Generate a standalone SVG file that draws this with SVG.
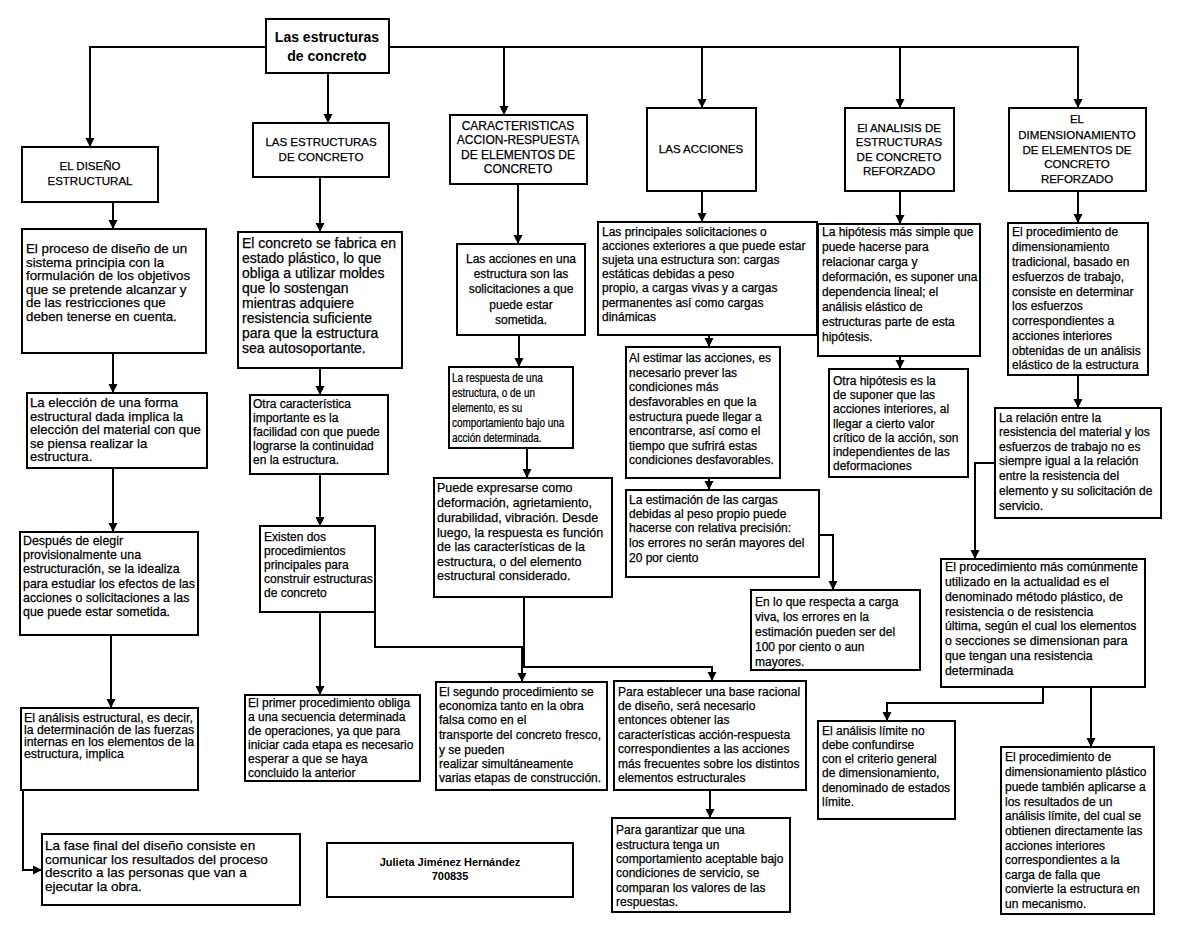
<svg xmlns="http://www.w3.org/2000/svg" width="1200" height="927" viewBox="0 0 1200 927">
<defs>
<marker id="arr" markerUnits="userSpaceOnUse" markerWidth="10" markerHeight="10" refX="9" refY="5" orient="auto">
<path d="M0,0.5 L9,5 L0,9.5 z" fill="#000"/>
</marker>
<style>
.box{fill:#fff;stroke:#000;stroke-width:2}
.t{font-family:"Liberation Sans",Arial,sans-serif;font-size:12px;fill:#000;stroke:#000;stroke-width:0.25px}
.h{font-family:"Liberation Sans",Arial,sans-serif;font-size:11.5px;fill:#000;stroke:#000;stroke-width:0.25px;text-anchor:middle}
.c{text-anchor:middle}
.b{font-weight:bold;stroke-width:0}
.conn path{fill:none;stroke:#000;stroke-width:2;marker-end:url(#arr)}
</style>
</defs>
<rect width="1200" height="927" fill="#fff"/>
<g class="conn">
<path d="M266,47 H90 V147"/>
<path d="M389,47 H1078 V108"/>
<path d="M504,47 V115"/>
<path d="M702,47 V108"/>
<path d="M900,47 V108"/>
<path d="M328,73 V123"/>
<path d="M113,202 V229"/>
<path d="M113,353 V393"/>
<path d="M113,468 V532"/>
<path d="M111,635 V708"/>
<path d="M23,790 V870 H42"/>
<path d="M320,177 V232"/>
<path d="M320,368 V395"/>
<path d="M320,474 V526"/>
<path d="M320,612 V695"/>
<path d="M375,612 V647 H522 V682"/>
<path d="M518,184 V244"/>
<path d="M519,335 V367"/>
<path d="M527,448 V478"/>
<path d="M524,597 V667 H712 V681"/>
<path d="M702,191 V222"/>
<path d="M709,335 V347"/>
<path d="M709,478 V490"/>
<path d="M819,535 H833 V590"/>
<path d="M710,790 V818"/>
<path d="M900,191 V224"/>
<path d="M900,356 V369"/>
<path d="M1078,191 V223"/>
<path d="M1078,375 V408"/>
<path d="M995,463 H975 V559"/>
<path d="M1043,687 V703 H887 V721"/>
<path d="M1091,687 V747"/>
</g>
<g id="title"><rect class="box" x="266" y="19" width="123" height="54"/><text class="t c b" style="font-size:14px"><tspan x="327" y="42">Las estructuras</tspan><tspan x="327" y="61">de concreto</tspan></text></g>
<g id="h1"><rect class="box" x="22" y="147" width="136" height="55"/><text class="h"><tspan x="90" y="170">EL DISEÑO</tspan><tspan x="90" y="185">ESTRUCTURAL</tspan></text></g>
<g id="h2"><rect class="box" x="253" y="123" width="136" height="54"/><text class="h"><tspan x="321" y="146">LAS ESTRUCTURAS</tspan><tspan x="321" y="161">DE CONCRETO</tspan></text></g>
<g id="h3"><rect class="box" x="450" y="115" width="137" height="69"/><text class="h" style="font-size:12px"><tspan x="518" y="130">CARACTERISTICAS</tspan><tspan x="518" y="144">ACCION-RESPUESTA</tspan><tspan x="518" y="159">DE ELEMENTOS DE</tspan><tspan x="518" y="173">CONCRETO</tspan></text></g>
<g id="h4"><rect class="box" x="647" y="108" width="109" height="83"/><text class="h"><tspan x="701" y="153">LAS ACCIONES</tspan></text></g>
<g id="h5"><rect class="box" x="845" y="108" width="109" height="83"/><text class="h"><tspan x="899" y="132">El ANALISIS DE</tspan><tspan x="899" y="146">ESTRUCTURAS</tspan><tspan x="899" y="161">DE CONCRETO</tspan><tspan x="899" y="175">REFORZADO</tspan></text></g>
<g id="h6"><rect class="box" x="1009" y="108" width="137" height="83"/><text class="h"><tspan x="1077" y="123">EL</tspan><tspan x="1077" y="139">DIMENSIONAMIENTO</tspan><tspan x="1077" y="154">DE ELEMENTOS DE</tspan><tspan x="1077" y="168">CONCRETO</tspan><tspan x="1077" y="183">REFORZADO</tspan></text></g>

<g id="a1"><rect class="box" x="22" y="229" width="184" height="124"/><text class="t" style="font-size:13.3px"><tspan x="26" y="253">El proceso de diseño de un</tspan><tspan x="26" y="267">sistema principia con la</tspan><tspan x="26" y="280">formulación de los objetivos</tspan><tspan x="26" y="294">que se pretende alcanzar y</tspan><tspan x="26" y="307">de las restricciones que</tspan><tspan x="26" y="321">deben tenerse en cuenta.</tspan></text></g>
<g id="a2"><rect class="box" x="27" y="393" width="180" height="75"/><text class="t" style="font-size:13.2px"><tspan x="30" y="407">La elección de una forma</tspan><tspan x="30" y="421">estructural dada implica la</tspan><tspan x="30" y="434">elección del material con que</tspan><tspan x="30" y="448">se piensa realizar la</tspan><tspan x="30" y="461">estructura.</tspan></text></g>
<g id="a3"><rect class="box" x="20" y="532" width="178" height="103"/><text class="t" style="font-size:13.5px" transform="translate(23,0) scale(0.92,1) translate(-23,0)"><tspan x="23" y="545">Después de elegir</tspan><tspan x="23" y="559">provisionalmente una</tspan><tspan x="23" y="573">estructuración, se la idealiza</tspan><tspan x="23" y="588">para estudiar los efectos de las</tspan><tspan x="23" y="602">acciones o solicitaciones a las</tspan><tspan x="23" y="616">que puede estar sometida.</tspan></text></g>
<g id="a4"><rect class="box" x="21" y="708" width="177" height="82"/><text class="t" style="font-size:12.3px"><tspan x="24" y="722">El análisis estructural, es decir,</tspan><tspan x="24" y="734">la determinación de las fuerzas</tspan><tspan x="24" y="746">internas en los elementos de la</tspan><tspan x="24" y="758">estructura, implica</tspan></text></g>
<g id="a5"><rect class="box" x="42" y="834" width="258" height="71"/><text class="t" style="font-size:13.5px"><tspan x="45" y="850">La fase final del diseño consiste en</tspan><tspan x="45" y="864">comunicar los resultados del proceso</tspan><tspan x="45" y="877">descrito a las personas que van a</tspan><tspan x="45" y="891">ejecutar la obra.</tspan></text></g>

<g id="b1"><rect class="box" x="238" y="232" width="164" height="136"/><text class="t" style="font-size:14px"><tspan x="242" y="248">El concreto se fabrica en</tspan><tspan x="242" y="263">estado plástico, lo que</tspan><tspan x="242" y="278">obliga a utilizar moldes</tspan><tspan x="242" y="293">que lo sostengan</tspan><tspan x="242" y="308">mientras adquiere</tspan><tspan x="242" y="323">resistencia suficiente</tspan><tspan x="242" y="338">para que la estructura</tspan><tspan x="242" y="353">sea autosoportante.</tspan></text></g>
<g id="b2"><rect class="box" x="250" y="395" width="138" height="79"/><text class="t"><tspan x="253" y="408">Otra característica</tspan><tspan x="253" y="422">importante es la</tspan><tspan x="253" y="436">facilidad con que puede</tspan><tspan x="253" y="450">lograrse la continuidad</tspan><tspan x="253" y="464">en la estructura.</tspan></text></g>
<g id="b3"><rect class="box" x="260" y="526" width="115" height="86"/><text class="t"><tspan x="264" y="541">Existen dos</tspan><tspan x="264" y="555">procedimientos</tspan><tspan x="264" y="569">principales para</tspan><tspan x="264" y="583">construir estructuras</tspan><tspan x="264" y="597">de concreto</tspan></text></g>
<g id="b4"><rect class="box" x="245" y="695" width="175" height="86"/><text class="t"><tspan x="248" y="707">El primer procedimiento obliga</tspan><tspan x="248" y="721">a una secuencia determinada</tspan><tspan x="248" y="735">de operaciones, ya que para</tspan><tspan x="248" y="749">iniciar cada etapa es necesario</tspan><tspan x="248" y="763">esperar a que se haya</tspan><tspan x="248" y="777">concluido la anterior</tspan></text></g>

<g id="c1"><rect class="box" x="457" y="244" width="128" height="91"/><text class="t c"><tspan x="521" y="263">Las acciones en una</tspan><tspan x="521" y="278">estructura son las</tspan><tspan x="521" y="293">solicitaciones a que</tspan><tspan x="521" y="309">puede estar</tspan><tspan x="521" y="324">sometida.</tspan></text></g>
<g id="c2"><rect class="box" x="449" y="367" width="124" height="81"/><text class="t" transform="translate(452,0) scale(0.83,1) translate(-452,0)"><tspan x="452" y="382">La respuesta de una</tspan><tspan x="452" y="397">estructura, o de un</tspan><tspan x="452" y="412">elemento, es su</tspan><tspan x="452" y="427">comportamiento bajo una</tspan><tspan x="452" y="442">acción determinada.</tspan></text></g>
<g id="c3"><rect class="box" x="434" y="478" width="178" height="119"/><text class="t" style="font-size:12.5px"><tspan x="437" y="492">Puede expresarse como</tspan><tspan x="437" y="507">deformación, agrietamiento,</tspan><tspan x="437" y="522">durabilidad, vibración. Desde</tspan><tspan x="437" y="537">luego, la respuesta es función</tspan><tspan x="437" y="551">de las características de la</tspan><tspan x="437" y="566">estructura, o del elemento</tspan><tspan x="437" y="580">estructural considerado.</tspan></text></g>
<g id="c5"><rect class="box" x="436" y="682" width="171" height="108"/><text class="t"><tspan x="439" y="696">El segundo procedimiento se</tspan><tspan x="439" y="710">economiza tanto en la obra</tspan><tspan x="439" y="724">falsa como en el</tspan><tspan x="439" y="739">transporte del concreto fresco,</tspan><tspan x="439" y="754">y se pueden</tspan><tspan x="439" y="768">realizar simultáneamente</tspan><tspan x="439" y="782">varias etapas de construcción.</tspan></text></g>

<g id="d1"><rect class="box" x="598" y="222" width="219" height="113"/><text class="t"><tspan x="602" y="236">Las principales solicitaciones o</tspan><tspan x="602" y="250">acciones exteriores a que puede estar</tspan><tspan x="602" y="264">sujeta una estructura son: cargas</tspan><tspan x="602" y="278">estáticas debidas a peso</tspan><tspan x="602" y="292">propio, a cargas vivas y a cargas</tspan><tspan x="602" y="307">permanentes así como cargas</tspan><tspan x="602" y="321">dinámicas</tspan></text></g>
<g id="d2"><rect class="box" x="626" y="347" width="154" height="131"/><text class="t"><tspan x="629" y="362">Al estimar las acciones, es</tspan><tspan x="629" y="377">necesario prever las</tspan><tspan x="629" y="391">condiciones más</tspan><tspan x="629" y="406">desfavorables en que la</tspan><tspan x="629" y="421">estructura puede llegar a</tspan><tspan x="629" y="435">encontrarse, así como el</tspan><tspan x="629" y="450">tiempo que sufrirá estas</tspan><tspan x="629" y="464">condiciones desfavorables.</tspan></text></g>
<g id="d3"><rect class="box" x="626" y="490" width="193" height="87"/><text class="t"><tspan x="629" y="504">La estimación de las cargas</tspan><tspan x="629" y="518">debidas al peso propio puede</tspan><tspan x="629" y="532">hacerse con relativa precisión:</tspan><tspan x="629" y="547">los errores no serán mayores del</tspan><tspan x="629" y="562">20 por ciento</tspan></text></g>
<g id="d4"><rect class="box" x="751" y="590" width="169" height="80"/><text class="t"><tspan x="755" y="606">En lo que respecta a carga</tspan><tspan x="755" y="621">viva, los errores en la</tspan><tspan x="755" y="636">estimación pueden ser del</tspan><tspan x="755" y="651">100 por ciento o aun</tspan><tspan x="755" y="666">mayores.</tspan></text></g>
<g id="d5"><rect class="box" x="614" y="681" width="192" height="109"/><text class="t"><tspan x="618" y="696">Para establecer una base racional</tspan><tspan x="618" y="710">de diseño, será necesario</tspan><tspan x="618" y="724">entonces obtener las</tspan><tspan x="618" y="739">características acción-respuesta</tspan><tspan x="618" y="753">correspondientes a las acciones</tspan><tspan x="618" y="768">más frecuentes sobre los distintos</tspan><tspan x="618" y="782">elementos estructurales</tspan></text></g>
<g id="d6"><rect class="box" x="612" y="818" width="178" height="94"/><text class="t"><tspan x="616" y="834">Para garantizar que una</tspan><tspan x="616" y="849">estructura tenga un</tspan><tspan x="616" y="863">comportamiento aceptable bajo</tspan><tspan x="616" y="877">condiciones de servicio, se</tspan><tspan x="616" y="892">comparan los valores de las</tspan><tspan x="616" y="906">respuestas.</tspan></text></g>

<g id="e1"><rect class="box" x="818" y="224" width="162" height="132"/><text class="t"><tspan x="822" y="236">La hipótesis más simple que</tspan><tspan x="822" y="251">puede hacerse para</tspan><tspan x="822" y="266">relacionar carga y</tspan><tspan x="822" y="281">deformación, es suponer una</tspan><tspan x="822" y="296">dependencia lineal; el</tspan><tspan x="822" y="311">análisis elástico de</tspan><tspan x="822" y="326">estructuras parte de esta</tspan><tspan x="822" y="341">hipótesis.</tspan></text></g>
<g id="e2"><rect class="box" x="829" y="369" width="139" height="108"/><text class="t"><tspan x="833" y="385">Otra hipótesis es la</tspan><tspan x="833" y="399">de suponer que las</tspan><tspan x="833" y="413">acciones interiores, al</tspan><tspan x="833" y="428">llegar a cierto valor</tspan><tspan x="833" y="442">crítico de la acción, son</tspan><tspan x="833" y="456">independientes de las</tspan><tspan x="833" y="470">deformaciones</tspan></text></g>

<g id="f1"><rect class="box" x="1008" y="223" width="140" height="152"/><text class="t"><tspan x="1012" y="236">El procedimiento de</tspan><tspan x="1012" y="251">dimensionamiento</tspan><tspan x="1012" y="266">tradicional, basado en</tspan><tspan x="1012" y="281">esfuerzos de trabajo,</tspan><tspan x="1012" y="296">consiste en determinar</tspan><tspan x="1012" y="310">los esfuerzos</tspan><tspan x="1012" y="325">correspondientes a</tspan><tspan x="1012" y="340">acciones interiores</tspan><tspan x="1012" y="355">obtenidas de un análisis</tspan><tspan x="1012" y="369">elástico de la estructura</tspan></text></g>
<g id="f2"><rect class="box" x="995" y="408" width="166" height="110"/><text class="t"><tspan x="999" y="422">La relación entre la</tspan><tspan x="999" y="436">resistencia del material y los</tspan><tspan x="999" y="451">esfuerzos de trabajo no es</tspan><tspan x="999" y="465">siempre igual a la relación</tspan><tspan x="999" y="480">entre la resistencia del</tspan><tspan x="999" y="495">elemento y su solicitación de</tspan><tspan x="999" y="510">servicio.</tspan></text></g>
<g id="f3"><rect class="box" x="941" y="559" width="204" height="128"/><text class="t" style="font-size:12.3px"><tspan x="945" y="571">El procedimiento más comúnmente</tspan><tspan x="945" y="586">utilizado en la actualidad es el</tspan><tspan x="945" y="601">denominado método plástico, de</tspan><tspan x="945" y="616">resistencia o de resistencia</tspan><tspan x="945" y="630">última, según el cual los elementos</tspan><tspan x="945" y="645">o secciones se dimensionan para</tspan><tspan x="945" y="660">que tengan una resistencia</tspan><tspan x="945" y="675">determinada</tspan></text></g>
<g id="f4"><rect class="box" x="818" y="721" width="137" height="98"/><text class="t"><tspan x="822" y="735">El análisis límite no</tspan><tspan x="822" y="749">debe confundirse</tspan><tspan x="822" y="763">con el criterio general</tspan><tspan x="822" y="777">de dimensionamiento,</tspan><tspan x="822" y="792">denominado de estados</tspan><tspan x="822" y="806">límite.</tspan></text></g>
<g id="f5"><rect class="box" x="1001" y="747" width="153" height="167"/><text class="t"><tspan x="1005" y="761">El procedimiento de</tspan><tspan x="1005" y="776">dimensionamiento plástico</tspan><tspan x="1005" y="791">puede también aplicarse a</tspan><tspan x="1005" y="806">los resultados de un</tspan><tspan x="1005" y="820">análisis límite, del cual se</tspan><tspan x="1005" y="835">obtienen directamente las</tspan><tspan x="1005" y="850">acciones interiores</tspan><tspan x="1005" y="864">correspondientes a la</tspan><tspan x="1005" y="879">carga de falla que</tspan><tspan x="1005" y="893">convierte la estructura en</tspan><tspan x="1005" y="908">un mecanismo.</tspan></text></g>

<g id="author"><rect class="box" x="327" y="843" width="246" height="54"/><text class="t c b" style="font-size:11px"><tspan x="450" y="866">Julieta Jiménez Hernández</tspan><tspan x="450" y="880">700835</tspan></text></g>
</svg>
